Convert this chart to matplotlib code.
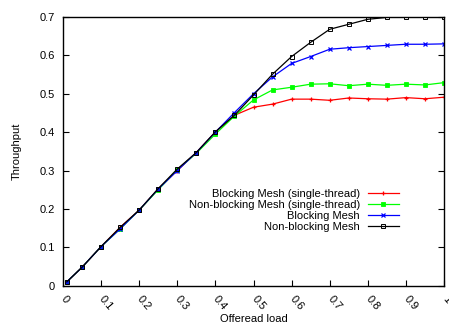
import matplotlib
matplotlib.use("Agg")
import matplotlib.pyplot as plt

plt.rcParams['font.family'] = ['Liberation Sans', 'DejaVu Sans']

load = [0.01, 0.05, 0.1, 0.15, 0.2, 0.25, 0.3, 0.35, 0.4, 0.45, 0.5,
        0.55, 0.6, 0.65, 0.7, 0.75, 0.8, 0.85, 0.9, 0.95, 1.0]

blocking_st = [0.01, 0.048, 0.102, 0.152, 0.197, 0.252, 0.300, 0.347, 0.400, 0.444, 0.465,
               0.473, 0.486, 0.486, 0.483, 0.489, 0.487, 0.486, 0.490, 0.487, 0.491]
nonblocking_st = [0.01, 0.048, 0.102, 0.148, 0.197, 0.250, 0.302, 0.345, 0.395, 0.442, 0.484,
                  0.510, 0.517, 0.525, 0.526, 0.521, 0.525, 0.522, 0.525, 0.523, 0.529]
blocking = [0.01, 0.048, 0.102, 0.148, 0.197, 0.252, 0.300, 0.347, 0.400, 0.451, 0.500,
            0.544, 0.579, 0.597, 0.616, 0.620, 0.623, 0.626, 0.629, 0.629, 0.630]
nonblocking = [0.01, 0.048, 0.102, 0.152, 0.197, 0.253, 0.304, 0.347, 0.401, 0.444, 0.497,
               0.551, 0.597, 0.634, 0.668, 0.681, 0.694, 0.699, 0.700, 0.700, 0.700]

labels = ["Blocking Mesh (single-thread)", "Non-blocking Mesh (single-thread)",
          "Blocking Mesh", "Non-blocking Mesh"]
xticks = [0, 0.1, 0.2, 0.3, 0.4, 0.5, 0.6, 0.7, 0.8, 0.9, 1]
xticklabels = ["0", "0.1", "0.2", "0.3", "0.4", "0.5", "0.6", "0.7", "0.8", "0.9", "1"]
yticks = [0, 0.1, 0.2, 0.3, 0.4, 0.5, 0.6, 0.7]
yticklabels = ["0", "0.1", "0.2", "0.3", "0.4", "0.5", "0.6", "0.7"]

fig = plt.figure(figsize=(4.49, 3.25), dpi=100)
ax = fig.add_axes([63/449, 1 - 285.7/325, (444-63)/449, (285.7-17)/325])

ax.plot(load, blocking_st, color='#ff0000', lw=0.9, marker='+', ms=3.5, mew=0.9, label=labels[0])
ax.plot(load, nonblocking_st, color='#00ff00', lw=0.9, marker='s', ms=2.8, mew=0.6, label=labels[1])
ax.plot(load, blocking, color='#0000ff', lw=0.9, marker='x', ms=3, mew=0.9, label=labels[2])
ax.plot(load, nonblocking, color='#000000', lw=0.9, marker='s', ms=3.2, mew=0.7,
        mfc='none', label=labels[3])

ax.set_xlim(0, 1)
ax.set_ylim(0, 0.7)
ax.set_xticks(xticks)
ax.set_xticklabels(xticklabels, rotation=-50, ha='left', va='center',
                   rotation_mode='anchor')
ax.set_yticks(yticks)
ax.set_yticklabels(yticklabels)
ax.tick_params(axis='both', direction='in', labelsize=8, length=4, width=0.8)
ax.tick_params(axis='y', right=True, pad=6)
ax.tick_params(axis='x', pad=8)
for s in ax.spines.values():
    s.set_linewidth(1.0)

ax.set_xlabel("Offeread load", fontsize=8, va='center')
ax.xaxis.set_label_coords(0.5, -32.8 / 268.7)
ax.set_ylabel("Throughput", fontsize=8, va='center')
ax.yaxis.set_label_coords((16.5 - 63) / 381, 0.5)

leg = ax.legend(loc='upper right', bbox_to_anchor=(399/449, 1 - 189/325),
                bbox_transform=fig.transFigure, frameon=False, markerfirst=False,
                fontsize=8, handlelength=2.8, handletextpad=0.7, labelspacing=0.1,
                borderpad=0, borderaxespad=0)

fig.savefig("out.png", dpi=100)
